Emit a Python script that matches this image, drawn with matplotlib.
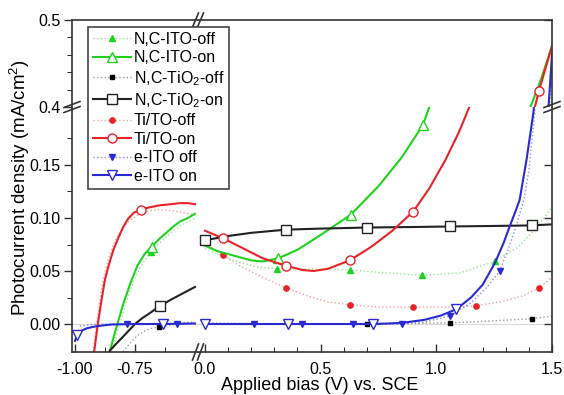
import numpy as np
import matplotlib
matplotlib.use('Agg')
import matplotlib.pyplot as plt
from matplotlib.lines import Line2D

plt.rcParams['font.family'] = ['Liberation Sans', 'DejaVu Sans']
plt.rcParams['mathtext.fontset'] = 'custom'
plt.rcParams['mathtext.rm'] = 'Liberation Sans'
plt.rcParams['mathtext.it'] = 'Liberation Sans:italic'

nan = np.nan

# data (nan = gap between the two bias ranges)
ito_off_x = [-0.85, -0.82, -0.79, -0.76, -0.73, -0.70, -0.683, -0.65, -0.60, -0.55, -0.50, nan,
             0.0, 0.078, 0.15, 0.22, 0.313, 0.45, 0.626, 0.80, 0.94, 1.10, 1.252, 1.35, 1.43, 1.50]
ito_off_y = [-0.03, -0.005, 0.018, 0.038, 0.053, 0.063, 0.068, 0.076, 0.086, 0.094, 0.100, nan,
             0.071, 0.064, 0.058, 0.054, 0.052, 0.052, 0.051, 0.048, 0.046, 0.048, 0.059, 0.072, 0.090, 0.110]
ito_off_mk = [6, 16, 18, 20, 22]

ito_on_x = [-0.86, -0.83, -0.80, -0.77, -0.74, -0.71, -0.68, -0.65, -0.62, -0.59, -0.56, -0.53, -0.50, nan,
            0.0, 0.05, 0.10, 0.15, 0.20, 0.25, 0.317, 0.40, 0.50, 0.63, 0.75, 0.85, 0.943, 0.97,
            1.05, 1.15, 1.25, 1.35, 1.407, 1.45, 1.50]
ito_on_y = [-0.03, -0.005, 0.018, 0.038, 0.055, 0.066, 0.073, 0.080, 0.086, 0.092, 0.097, 0.100, 0.104, nan,
            0.074, 0.069, 0.066, 0.063, 0.060, 0.059, 0.062, 0.070, 0.084, 0.103, 0.130, 0.157, 0.188, 0.205,
            0.24, 0.28, 0.32, 0.37, 0.40, 0.43, 0.47]
ito_on_mk = [6, 20, 23, 26]

tio2_off_x = [-0.80, -0.77, -0.74, -0.71, -0.68, -0.65, -0.60, -0.55, -0.50, nan,
              0.0, 0.35, 0.70, 0.90, 1.057, 1.25, 1.413, 1.50]
tio2_off_y = [-0.026, -0.018, -0.011, -0.0065, -0.004, -0.003, -0.001, 0.001, 0.002, nan,
              0.001, 0.0, 0.0, 0.0005, 0.001, 0.003, 0.005, 0.0075]
tio2_off_mk = [5, 12, 14, 16]

tio2_on_x = [-0.86, -0.83, -0.80, -0.775, -0.75, -0.72, -0.69, -0.646, -0.60, -0.55, -0.50, nan,
             0.0, 0.1, 0.2, 0.35, 0.5, 0.70, 0.9, 1.057, 1.25, 1.413, 1.50]
tio2_on_y = [-0.0265, -0.019, -0.012, -0.006, 0.0, 0.0055, 0.010, 0.017, 0.023, 0.029, 0.035, nan,
             0.079, 0.083, 0.086, 0.089, 0.090, 0.091, 0.0915, 0.092, 0.0925, 0.093, 0.094]
tio2_on_mk = [7, 12, 15, 17, 19, 21]

tito_off_x = [-0.925, -0.91, -0.895, -0.88, -0.86, -0.84, -0.82, -0.80, -0.77, -0.73, -0.69, -0.65, -0.60, -0.55, -0.50, nan,
              0.0, 0.078, 0.15, 0.25, 0.352, 0.45, 0.53, 0.626, 0.75, 0.90, 1.05, 1.17, 1.30, 1.38, 1.443, 1.50]
tito_off_y = [-0.026, 0.0, 0.025, 0.045, 0.062, 0.075, 0.084, 0.091, 0.098, 0.104, 0.107, 0.108, 0.107, 0.105, 0.103, nan,
              0.076, 0.065, 0.055, 0.044, 0.034, 0.026, 0.021, 0.018, 0.016, 0.016, 0.016, 0.017, 0.022, 0.027, 0.034, 0.044]
tito_off_mk = [17, 20, 23, 25, 27, 30]

tito_on_x = [-0.92, -0.905, -0.89, -0.875, -0.86, -0.84, -0.82, -0.80, -0.78, -0.755, -0.725, -0.69, -0.646, -0.60,
             -0.5625, -0.53, -0.50, nan,
             0.0, 0.077, 0.15, 0.25, 0.35, 0.42, 0.47, 0.53, 0.626, 0.72, 0.81, 0.90, 0.97, 1.04, 1.10, 1.143,
             1.25, 1.35, 1.426, 1.443, 1.50]
tito_on_y = [-0.026, 0.0, 0.022, 0.042, 0.055, 0.070, 0.081, 0.091, 0.099, 0.105, 0.108, 0.110, 0.112, 0.113,
             0.114, 0.114, 0.113, nan,
             0.088, 0.081, 0.073, 0.062, 0.055, 0.051, 0.050, 0.052, 0.060, 0.073, 0.088, 0.106, 0.128, 0.155, 0.182, 0.205,
             0.26, 0.33, 0.40, 0.418, 0.47]
tito_on_mk = [10, 19, 22, 26, 29, 37]

eito_off_x = [-0.98, -0.95, -0.90, -0.783, -0.575, -0.50, nan,
              0.0, 0.21, 0.42, 0.64, 0.85, 0.95, 1.057, 1.15, 1.22, 1.274, 1.31, 1.345, 1.378, 1.40, 1.426,
              1.45, 1.47, 1.50]
eito_off_y = [-0.002, -0.001, 0.0, 0.0, 0.0, 0.0, nan,
              0.0, 0.0, 0.0, 0.0, 0.0, 0.002, 0.0075, 0.02, 0.035, 0.050, 0.070, 0.092, 0.117, 0.145, 0.200,
              0.27, 0.33, 0.44]
eito_off_mk = [3, 4, 8, 9, 10, 11, 13, 16]

eito_on_x = [-1.0, -0.99, -0.97, -0.95, -0.92, -0.89, -0.85, -0.75, -0.633, -0.50, nan,
             0.0, 0.36, 0.726, 0.85, 0.95, 1.02, 1.087, 1.15, 1.20, 1.252, 1.29, 1.317, 1.34, 1.36, 1.39,
             1.42, 1.44, 1.46, 1.485, 1.50]
eito_on_y = [-0.016, -0.010, -0.006, -0.004, -0.0025, -0.0015, -0.0005, 0.0, 0.0, 0.0005, nan,
             0.0, 0.0, 0.0, 0.001, 0.004, 0.008, 0.014, 0.025, 0.037, 0.057, 0.076, 0.092, 0.105, 0.117, 0.155,
             0.200, 0.26, 0.33, 0.40, 0.46]
eito_on_mk = [1, 8, 11, 12, 13, 17]

labels = ['N,C-ITO-off', 'N,C-ITO-on', 'N,C-TiO$_2$-off', 'N,C-TiO$_2$-on',
          'Ti/TO-off', 'Ti/TO-on', 'e-ITO off', 'e-ITO on']

green, green_l = '#1ed21e', '#96e496'
black, black_l = '#222222', '#9a9a9a'
red, red_l = '#e82228', '#f2a0a0'
blue, blue_l = '#2a2ad2', '#8c8ce6'

off = dict(ls=':', lw=1.0, ms=3.8)
on = dict(ls='-', lw=1.5, ms=6.5, mfc='white', mew=1.0)

series = [
    (ito_off_x, ito_off_y, ito_off_mk, dict(off, color=green_l, marker='^', mfc=green, mec=green)),
    (tio2_off_x, tio2_off_y, tio2_off_mk, dict(off, color=black_l, marker='s', mfc='black', mec='black', ms=3.3)),
    (tito_off_x, tito_off_y, tito_off_mk, dict(off, color=red_l, marker='o', mfc=red, mec=red)),
    (eito_off_x, eito_off_y, eito_off_mk, dict(off, color=blue_l, marker='v', mfc=blue, mec=blue)),
    (ito_on_x, ito_on_y, ito_on_mk, dict(on, color=green, marker='^', mec=green)),
    (tio2_on_x, tio2_on_y, tio2_on_mk, dict(on, color=black, marker='s', mec=black)),
    (tito_on_x, tito_on_y, tito_on_mk, dict(on, color=red, marker='o', mec=red)),
    (eito_on_x, eito_on_y, eito_on_mk, dict(on, color=blue, marker='v', mec=blue)),
]
legend_order = [0, 4, 1, 5, 2, 6, 3, 7]

W, H = 564, 395
fig = plt.figure(figsize=(W / 100, H / 100), dpi=100)
L, XB, R = 72 / W, 198 / W, 552 / W
T, YB, B = 1 - 20 / H, 1 - 107 / H, 1 - 352 / H
ax_bl = fig.add_axes([L, B, XB - L, YB - B])
ax_br = fig.add_axes([XB, B, R - XB, YB - B])
ax_tl = fig.add_axes([L, YB, XB - L, T - YB])
ax_tr = fig.add_axes([XB, YB, R - XB, T - YB])
axes = [ax_bl, ax_br, ax_tl, ax_tr]

for ax in [ax_bl, ax_br]:
    ax.axhline(0, color='#dadada', lw=0.8, zorder=0)

for ax in axes:
    for x, y, mk, st in series:
        ax.plot(x, y, markevery=mk, **st)

# limits
for ax in [ax_bl, ax_tl]:
    ax.set_xlim(-1.0125, -0.4875)
for ax in [ax_br, ax_tr]:
    ax.set_xlim(-0.03, 1.5)
for ax in [ax_bl, ax_br]:
    ax.set_ylim(-0.0264, 0.2047)
for ax in [ax_tl, ax_tr]:
    ax.set_ylim(0.4, 0.5)

spine_c = '#333333'
for ax in axes:
    for s in ax.spines.values():
        s.set_color(spine_c)
        s.set_linewidth(1.2)
    ax.tick_params(colors=spine_c, labelcolor='black', labelsize=11.5, width=1.0)
    ax.tick_params(which='major', length=6)
    ax.tick_params(which='minor', length=3.5)

ax_bl.spines['right'].set_visible(False)
ax_bl.spines['top'].set_visible(False)
ax_br.spines['left'].set_visible(False)
ax_br.spines['top'].set_visible(False)
ax_tl.spines['right'].set_visible(False)
ax_tl.spines['bottom'].set_visible(False)
ax_tr.spines['left'].set_visible(False)
ax_tr.spines['bottom'].set_visible(False)

# x ticks
ax_bl.set_xticks([-1.0, -0.75])
ax_bl.set_xticks([-0.875, -0.625], minor=True)
ax_bl.set_xticklabels(['-1.00', '-0.75'])
ax_br.set_xticks([0.0, 0.5, 1.0, 1.5])
ax_br.set_xticks(np.arange(1, 15) / 10, minor=True)
ax_br.set_xticklabels(['0.0', '0.5', '1.0', '1.5'])
for ax in [ax_bl, ax_br]:
    ax.tick_params(axis='x', which='both', direction='in', pad=7)
for ax in [ax_tl, ax_tr]:
    ax.tick_params(axis='x', which='both', bottom=False, top=False, labelbottom=False)

# y ticks
ax_bl.set_yticks([0.0, 0.05, 0.10, 0.15])
ax_bl.set_yticks([0.025, 0.075, 0.125, 0.175], minor=True)
ax_bl.set_yticklabels(['0.00', '0.05', '0.10', '0.15'])
ax_tl.set_yticks([0.4, 0.5])
ax_tl.set_yticks([0.42, 0.44, 0.46, 0.48], minor=True)
ax_tl.set_yticklabels(['0.4', '0.5'])
for ax in [ax_bl, ax_tl]:
    ax.tick_params(axis='y', which='both', direction='out', pad=2)
ax_br.set_yticks([0.0, 0.05, 0.10, 0.15])
ax_tr.set_yticks([0.5])
for ax in [ax_br, ax_tr]:
    ax.yaxis.tick_right()
    ax.set_yticks([], minor=True)
    ax.tick_params(axis='y', which='both', direction='in', labelright=False)

# break marks
def brk(cx, cy, dx, dy, gap_x, gap_y):
    for k in (-1, 1):
        ox, oy = cx + k * gap_x, cy + k * gap_y
        fig.add_artist(Line2D([(ox - dx) / W, (ox + dx) / W], [1 - (oy + dy) / H, 1 - (oy - dy) / H],
                              color=spine_c, lw=1.2))

brk(198, 352, 3, 8, 2.5, 0)
brk(198, 20, 3, 7, 2.5, 0)
brk(72, 107, 8, 3, 0, 2.5)
brk(552, 107, 8, 3, 0, 2.5)

fig.text(20 / W, 1 - 188 / H, 'Photocurrent density (mA/cm$^2$)', rotation=90,
         ha='center', va='center', fontsize=13.5)
fig.text(320 / W, 1 - 386 / H, 'Applied bias (V) vs. SCE', ha='center', va='center', fontsize=13)

handles = []
for i in legend_order:
    st = dict(series[i][3])
    handles.append(Line2D([], [], **st))
leg = fig.legend(handles, labels, loc='upper left', bbox_to_anchor=(88 / W, 1 - 27 / H),
                 frameon=True, fancybox=False, edgecolor='#444444', framealpha=1, fontsize=11.5,
                 handlelength=2.4, handletextpad=0.15, labelspacing=0.22, borderpad=0.3,
                 borderaxespad=0, numpoints=1)
leg.get_frame().set_linewidth(1.2)

fig.savefig('out.png', dpi=100)
